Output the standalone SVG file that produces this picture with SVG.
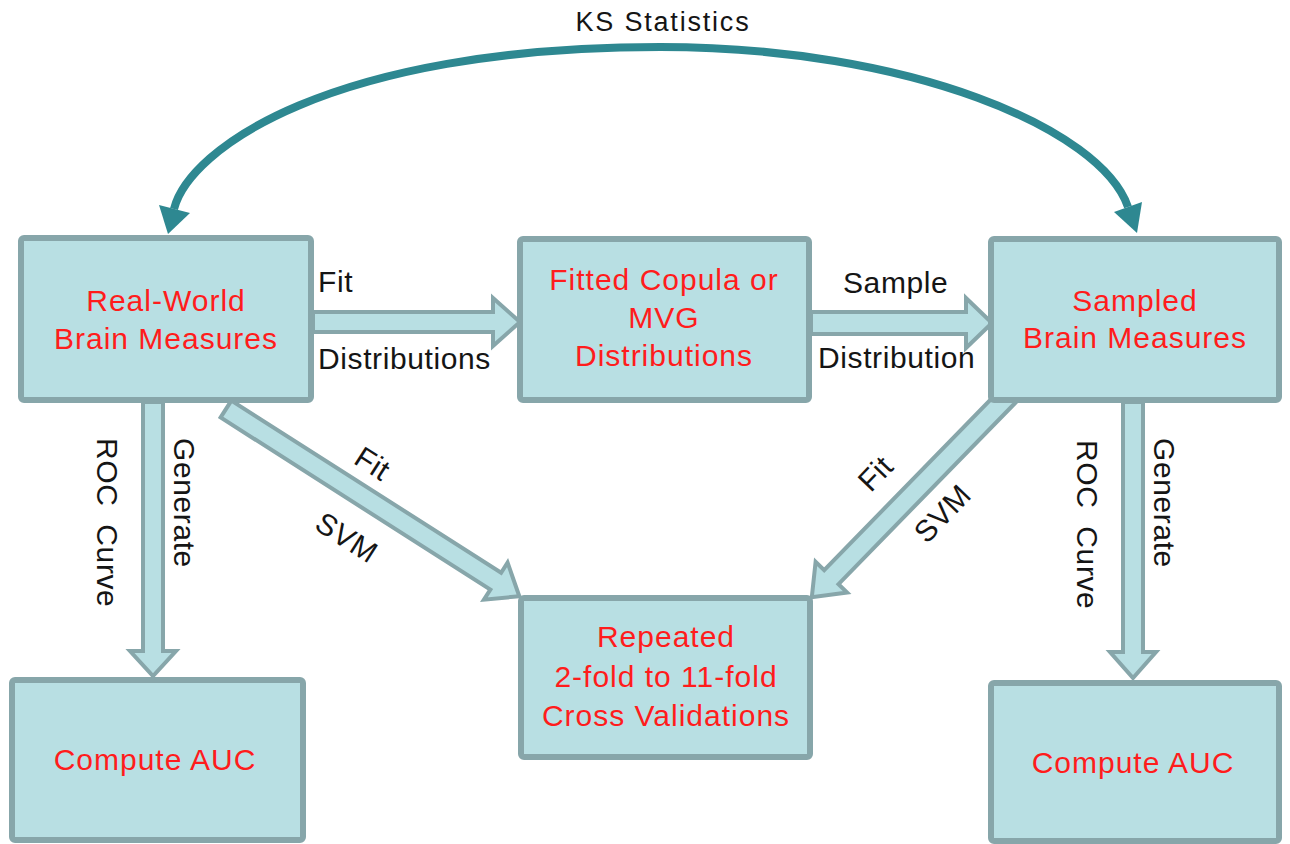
<svg xmlns="http://www.w3.org/2000/svg" width="1290" height="844" viewBox="0 0 1290 844">
<style>
.box{fill:#b8dfe3;stroke:#87a6aa;stroke-width:6}
.blk{fill:#b8dfe3;stroke:#87a6aa;stroke-width:4;stroke-linejoin:miter}
.nt{font-family:"Liberation Sans",Arial,sans-serif;font-size:30px;fill:#ff1c1c;text-anchor:middle;letter-spacing:1px}
.lb{font-family:"Liberation Sans",Arial,sans-serif;font-size:30px;fill:#151515;letter-spacing:0.6px}
.arc{fill:none;stroke:#2e8891;stroke-width:8}
.ah{fill:#2e8891}
</style>
<rect width="1290" height="844" fill="#ffffff"/>
<g id="connectors">
  <path class="arc" d="M174,209 C189,149 330,47 660,47 C910,47 1101,129 1128,207"/>
  <polygon class="ah" points="168,234 159,205 190,213"/>
  <polygon class="ah" points="1137,233 1142,202 1114,212"/>
  <polygon class="blk" points="313,312 493,312 493,298 520,322 493,346 493,332 313,332"/>
  <polygon class="blk" points="811,312 966,312 966,298 992,323 966,348 966,334 811,334"/>
  <polygon class="blk" points="143,402 143,651 130,651 153,676 176,651 163,651 163,402"/>
  <polygon class="blk" points="1123,402 1123,652 1110,652 1133,678 1156,652 1143,652 1143,402"/>
  <g transform="translate(226,409) rotate(32.55)">
    <polygon class="blk" points="0,-10 320,-10 320,-22 348,0 320,22 320,10 0,10"/>
  </g>
  <g transform="translate(1008,396) rotate(134.28)">
    <polygon class="blk" points="0,-10 253,-10 253,-22 281,0 253,22 253,10 0,10"/>
  </g>
  <text class="lb" x="663" y="31" text-anchor="middle" style="font-size:27px;letter-spacing:1.8px">KS Statistics</text>
  <text class="lb" x="318" y="292">Fit</text>
  <text class="lb" x="318" y="369">Distributions</text>
  <text class="lb" x="843" y="293">Sample</text>
  <text class="lb" x="818" y="368">Distribution</text>
  <text class="lb" xml:space="preserve" transform="translate(97,438) rotate(90)">ROC  Curve</text>
  <text class="lb" transform="translate(174,438) rotate(90)">Generate</text>
  <text class="lb" xml:space="preserve" transform="translate(1077,440) rotate(90)">ROC  Curve</text>
  <text class="lb" transform="translate(1154,438) rotate(90)">Generate</text>
  <text class="lb" text-anchor="middle" transform="translate(373,463) rotate(32.5)" y="11">Fit</text>
  <text class="lb" text-anchor="middle" transform="translate(347,537) rotate(32.5)" y="11">SVM</text>
  <text class="lb" text-anchor="middle" transform="translate(875,473) rotate(-46)" y="11">Fit</text>
  <text class="lb" text-anchor="middle" transform="translate(942,513) rotate(-46)" y="11">SVM</text>
</g>
<g id="real-world">
  <rect class="box" x="21" y="238" width="290" height="162" rx="3"/>
  <text class="nt" x="166" y="311">Real-World</text>
  <text class="nt" x="166" y="349">Brain Measures</text>
</g>
<g id="fitted-copula">
  <rect class="box" x="520" y="239" width="289" height="161" rx="3"/>
  <text class="nt" x="664" y="290">Fitted Copula or</text>
  <text class="nt" x="664" y="328">MVG</text>
  <text class="nt" x="664" y="366">Distributions</text>
</g>
<g id="sampled">
  <rect class="box" x="991" y="239" width="288" height="161" rx="3"/>
  <text class="nt" x="1135" y="311">Sampled</text>
  <text class="nt" x="1135" y="348">Brain Measures</text>
</g>
<g id="repeated">
  <rect class="box" x="521" y="598" width="289" height="159" rx="3"/>
  <text class="nt" x="666" y="647">Repeated</text>
  <text class="nt" x="666" y="687">2-fold to 11-fold</text>
  <text class="nt" x="666" y="726">Cross Validations</text>
</g>
<g id="compute-auc-left">
  <rect class="box" x="12" y="680" width="291" height="160" rx="3"/>
  <text class="nt" x="155" y="770">Compute AUC</text>
</g>
<g id="compute-auc-right">
  <rect class="box" x="991" y="683" width="288" height="158" rx="3"/>
  <text class="nt" x="1133" y="773">Compute AUC</text>
</g>
</svg>
